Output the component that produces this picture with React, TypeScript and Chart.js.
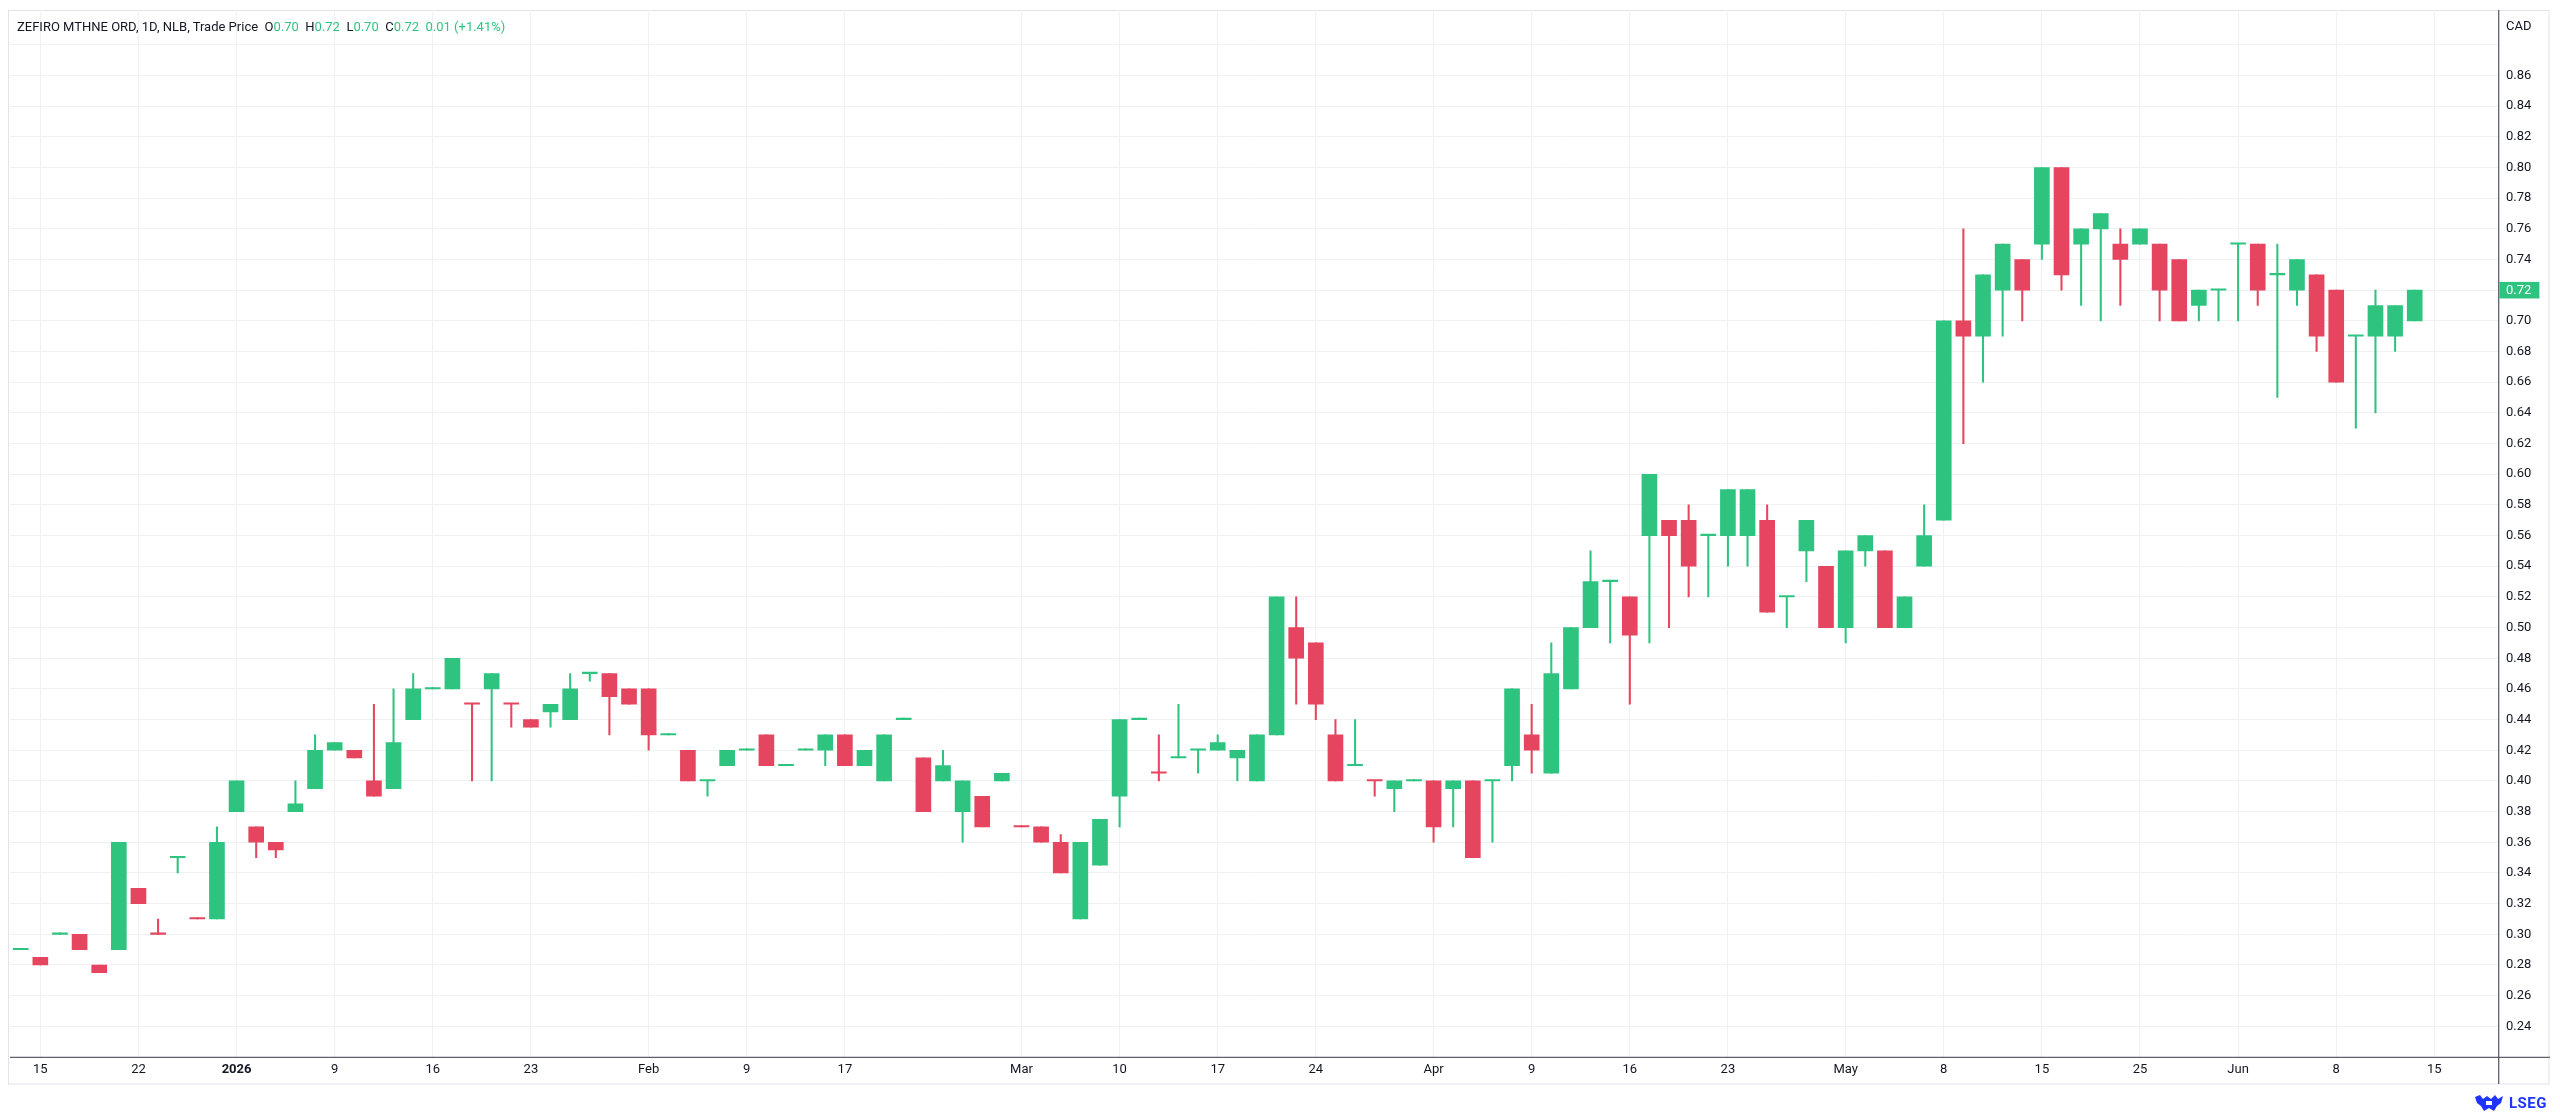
import { useEffect, useRef } from 'react';
import Chart from 'chart.js/auto';

// daily candles, Dec 12 2025 .. Jun 12 2026 (trading days only)
const opens = [
  0.29, 0.285, 0.30, 0.30, 0.28, 0.29, 0.33, 0.30, 0.35, 0.31,
  0.31, 0.38, 0.37, 0.36, 0.38, 0.395, 0.42, 0.42, 0.40, 0.395,
  0.44, 0.46, 0.46, 0.45, 0.46, 0.45, 0.44, 0.445, 0.44, 0.47,
  0.47, 0.46, 0.46, 0.43, 0.42, 0.40, 0.41, 0.42, 0.43, 0.41,
  0.42, 0.42, 0.43, 0.41, 0.40, 0.44, 0.415, 0.40, 0.38, 0.39,
  0.40, 0.37, 0.37, 0.36, 0.31, 0.345, 0.39, 0.44, 0.405, 0.415,
  0.42, 0.42, 0.415, 0.40, 0.43, 0.50, 0.49, 0.43, 0.41, 0.40,
  0.395, 0.40, 0.40, 0.395, 0.40, 0.40, 0.41, 0.43, 0.405, 0.46,
  0.50, 0.53, 0.52, 0.56, 0.57, 0.57, 0.56, 0.56, 0.56, 0.57,
  0.52, 0.55, 0.54, 0.50, 0.55, 0.55, 0.50, 0.54, 0.57, 0.70,
  0.69, 0.72, 0.74, 0.75, 0.80, 0.75, 0.76, 0.75, 0.75, 0.75,
  0.74, 0.71, 0.72, 0.75, 0.75, 0.73, 0.72, 0.73, 0.72, 0.69,
  0.69, 0.69, 0.70,
];
const highs = [
  0.29, 0.285, 0.30, 0.30, 0.28, 0.36, 0.33, 0.31, 0.35, 0.31,
  0.37, 0.40, 0.37, 0.36, 0.40, 0.43, 0.425, 0.42, 0.45, 0.46,
  0.47, 0.46, 0.48, 0.45, 0.47, 0.45, 0.44, 0.45, 0.47, 0.47,
  0.47, 0.46, 0.46, 0.43, 0.42, 0.40, 0.42, 0.42, 0.43, 0.41,
  0.42, 0.43, 0.43, 0.42, 0.43, 0.44, 0.415, 0.42, 0.40, 0.39,
  0.405, 0.37, 0.37, 0.365, 0.36, 0.375, 0.44, 0.44, 0.43, 0.45,
  0.42, 0.43, 0.42, 0.43, 0.52, 0.52, 0.49, 0.44, 0.44, 0.40,
  0.40, 0.40, 0.40, 0.40, 0.40, 0.40, 0.46, 0.45, 0.49, 0.50,
  0.55, 0.53, 0.52, 0.60, 0.57, 0.58, 0.56, 0.59, 0.59, 0.58,
  0.52, 0.57, 0.54, 0.55, 0.56, 0.55, 0.52, 0.58, 0.70, 0.76,
  0.73, 0.75, 0.74, 0.80, 0.80, 0.76, 0.77, 0.76, 0.76, 0.75,
  0.74, 0.72, 0.72, 0.75, 0.75, 0.75, 0.74, 0.73, 0.72, 0.69,
  0.72, 0.71, 0.72,
];
const lows = [
  0.29, 0.28, 0.30, 0.29, 0.275, 0.29, 0.32, 0.30, 0.34, 0.31,
  0.31, 0.38, 0.35, 0.35, 0.38, 0.395, 0.42, 0.415, 0.39, 0.395,
  0.44, 0.46, 0.46, 0.40, 0.40, 0.435, 0.435, 0.435, 0.44, 0.465,
  0.43, 0.45, 0.42, 0.43, 0.40, 0.39, 0.41, 0.42, 0.41, 0.41,
  0.42, 0.41, 0.41, 0.41, 0.40, 0.44, 0.38, 0.40, 0.36, 0.37,
  0.40, 0.37, 0.36, 0.34, 0.31, 0.345, 0.37, 0.44, 0.40, 0.415,
  0.405, 0.42, 0.40, 0.40, 0.43, 0.45, 0.44, 0.40, 0.41, 0.39,
  0.38, 0.40, 0.36, 0.37, 0.35, 0.36, 0.40, 0.405, 0.405, 0.46,
  0.50, 0.49, 0.45, 0.49, 0.50, 0.52, 0.52, 0.54, 0.54, 0.51,
  0.50, 0.53, 0.50, 0.49, 0.54, 0.50, 0.50, 0.54, 0.57, 0.62,
  0.66, 0.69, 0.70, 0.74, 0.72, 0.71, 0.70, 0.71, 0.75, 0.70,
  0.70, 0.70, 0.70, 0.70, 0.71, 0.65, 0.71, 0.68, 0.66, 0.63,
  0.64, 0.68, 0.70,
];
const closes = [
  0.29, 0.28, 0.30, 0.29, 0.275, 0.36, 0.32, 0.30, 0.35, 0.31,
  0.36, 0.40, 0.36, 0.355, 0.385, 0.42, 0.425, 0.415, 0.39, 0.425,
  0.46, 0.46, 0.48, 0.45, 0.47, 0.45, 0.435, 0.45, 0.46, 0.47,
  0.455, 0.45, 0.43, 0.43, 0.40, 0.40, 0.42, 0.42, 0.41, 0.41,
  0.42, 0.43, 0.41, 0.42, 0.43, 0.44, 0.38, 0.41, 0.40, 0.37,
  0.405, 0.37, 0.36, 0.34, 0.36, 0.375, 0.44, 0.44, 0.405, 0.415,
  0.42, 0.425, 0.42, 0.43, 0.52, 0.48, 0.45, 0.40, 0.41, 0.40,
  0.40, 0.40, 0.37, 0.40, 0.35, 0.40, 0.46, 0.42, 0.47, 0.50,
  0.53, 0.53, 0.495, 0.60, 0.56, 0.54, 0.56, 0.59, 0.59, 0.51,
  0.52, 0.57, 0.50, 0.55, 0.56, 0.50, 0.52, 0.56, 0.70, 0.69,
  0.73, 0.75, 0.72, 0.80, 0.73, 0.76, 0.77, 0.74, 0.76, 0.72,
  0.70, 0.72, 0.72, 0.75, 0.72, 0.73, 0.74, 0.69, 0.66, 0.69,
  0.71, 0.71, 0.72,
];

// time axis labels, placed on bar index
const tickIndex = [1, 6, 11, 16, 21, 26, 32, 37, 42, 51, 56, 61, 66, 72, 77, 82, 87, 93, 98, 103, 108, 113, 118, 123];
const tickText = ['15', '22', '2026', '9', '16', '23', 'Feb', '9', '17', 'Mar', '10', '17', '24', 'Apr', '9', '16', '23', 'May', '8', '15', '25', 'Jun', '8', '15'];

const priceTicks = [
  0.24, 0.26, 0.28, 0.30, 0.32, 0.34, 0.36, 0.38, 0.40, 0.42, 0.44,
  0.46, 0.48, 0.50, 0.52, 0.54, 0.56, 0.58, 0.60, 0.62, 0.64, 0.66,
  0.68, 0.70, 0.72, 0.74, 0.76, 0.78, 0.80, 0.82, 0.84, 0.86, 0.88,
];

const UP = '#2ec480';
const DOWN = '#e6455f';
const GRID = '#f0f1f3';
const TEXT = '#131722';
const FONT = 'Roboto, "Noto Sans", sans-serif';

const isUp = (i: number) =>
  closes[i] > opens[i] || (closes[i] === opens[i] && (i === 0 || closes[i] >= closes[i - 1]));

const barColors = closes.map((_, i) => (isUp(i) ? UP : DOWN));

const overlay = {
  id: 'overlay',
  beforeDraw(chart: any) {
    const { ctx, chartArea } = chart;
    ctx.save();
    ctx.strokeStyle = '#e0e3eb';
    ctx.lineWidth = 1;
    ctx.strokeRect(8.5, 10.5, chart.width - 9.5, chartArea.bottom + 26.7 - 10.5);
    ctx.restore();
  },
  afterDraw(chart: any) {
    const { ctx, chartArea, scales } = chart;
    ctx.save();
    ctx.strokeStyle = '#5d606b';
    ctx.lineWidth = 1.3;
    ctx.beginPath();
    ctx.moveTo(chartArea.left, chartArea.bottom);
    ctx.lineTo(chart.width, chartArea.bottom);
    ctx.moveTo(chartArea.right, chartArea.top);
    ctx.lineTo(chartArea.right, chartArea.bottom + 26.7);
    ctx.stroke();

    const last = closes.length - 1;
    const y = scales.y.getPixelForValue(closes[last]);
    ctx.fillStyle = isUp(last) ? UP : DOWN;
    ctx.fillRect(chartArea.right + 0.7, y - 8.3, 40, 16.6);
    ctx.fillStyle = '#ffffff';
    ctx.font = `13px ${FONT}`;
    ctx.textBaseline = 'middle';
    ctx.textAlign = 'left';
    ctx.fillText(closes[last].toFixed(2), chartArea.right + 7.3, y + 0.5);
    ctx.restore();
  },
};

export default function App() {
  const chartRef = useRef<HTMLCanvasElement>(null);
  const chartInstance = useRef<Chart | null>(null);

  useEffect(() => {
    if (!chartRef.current) return;
    const ctx = chartRef.current.getContext('2d');
    if (!ctx) return;

    if (chartInstance.current) {
      chartInstance.current.destroy();
    }

    chartInstance.current = new Chart(ctx, {
      type: 'bar',
      data: {
        datasets: [
          {
            label: 'body',
            data: opens.map((o, i) => ({ x: i, y: [Math.min(o, closes[i]), Math.max(o, closes[i])] })) as any,
            backgroundColor: barColors,
            barThickness: 15,
            minBarLength: 1.4,
            grouped: false,
            borderWidth: 0,
          },
          {
            label: 'wick',
            data: lows.map((l, i) => ({ x: i, y: [l, highs[i]] })) as any,
            backgroundColor: barColors,
            barThickness: 1.4,
            minBarLength: 1.4,
            grouped: false,
            borderWidth: 0,
          },
        ],
      },
      options: {
        responsive: false,
        animation: false,
        layout: { padding: { left: 10, top: 10, right: 0, bottom: 31 } },
        plugins: {
          legend: { display: false },
          tooltip: { enabled: false },
        },
        scales: {
          x: {
            type: 'linear',
            min: -0.546,
            max: 126.28,
            offset: false,
            grid: { offset: false, color: GRID, drawTicks: false },
            border: { display: false },
            afterBuildTicks: (s: any) => {
              s.ticks = tickIndex.map((v) => ({ value: v }));
            },
            afterFit: (s: any) => {
              s.height = 26.7;
              s.paddingLeft = 0;
              s.paddingRight = 0;
            },
            ticks: {
              autoSkip: false,
              maxRotation: 0,
              padding: 5,
              color: TEXT,
              font: (c: any) => ({
                family: FONT,
                size: 13,
                weight: tickText[c.index] === '2026' ? 'bold' : 'normal',
              }),
              callback: (v: any) => {
                const k = tickIndex.indexOf(Number(v));
                return k >= 0 ? tickText[k] : '';
              },
            },
          },
          y: {
            type: 'linear',
            position: 'right',
            min: 0.2198,
            max: 0.9027,
            beginAtZero: false,
            grid: { color: GRID, drawTicks: false },
            border: { display: false },
            afterBuildTicks: (s: any) => {
              s.ticks = priceTicks.map((v) => ({ value: v }));
            },
            afterFit: (s: any) => {
              s.width = 51.3;
              s.paddingTop = 0;
              s.paddingBottom = 0;
            },
            ticks: {
              padding: 7.3,
              color: TEXT,
              font: { family: FONT, size: 13 },
              callback: (v: any) => (Number(v) > 0.865 ? '' : Number(v).toFixed(2)),
            },
          },
        },
      },
      plugins: [overlay],
    });

    return () => {
      if (chartInstance.current) {
        chartInstance.current.destroy();
        chartInstance.current = null;
      }
    };
  }, []);

  const last = closes.length - 1;
  const change = closes[last] - closes[last - 1];
  const pct = (change / closes[last - 1]) * 100;
  const val = (n: number) => <span style={{ color: UP }}>{n.toFixed(2)}</span>;

  return (
    <div style={{ position: 'fixed', left: 0, top: 0, width: 2560, height: 1115, background: '#fff', fontFamily: FONT }}>
      <canvas ref={chartRef} width={2550} height={1115} style={{ position: 'absolute', left: 0, top: 0, width: 2550, height: 1115 }} />
      <div style={{ position: 'absolute', left: 17, top: 19, fontSize: 13, color: TEXT, whiteSpace: 'pre', lineHeight: '16px' }}>
        <span>ZEFIRO MTHNE ORD, 1D, NLB, Trade Price  </span>
        <span>O</span>{val(opens[last])}<span>  H</span>{val(highs[last])}<span>  L</span>{val(lows[last])}
        <span>  C</span>{val(closes[last])}
        <span style={{ color: UP }}>{`  ${change.toFixed(2)} (${change >= 0 ? '+' : ''}${pct.toFixed(2)}%)`}</span>
      </div>
      <div style={{ position: 'absolute', left: 2506, top: 18, fontSize: 13, color: TEXT, lineHeight: '16px' }}>CAD</div>
      <div style={{ position: 'absolute', left: 2474, top: 1093, display: 'flex', alignItems: 'center', gap: 5 }}>
        <svg width="30" height="20" viewBox="0 0 30 20">
          <path d="M1 4 L6 2 L9 6 L13 3 L17 6 L21 2 L24 6 L29 3 L27 10 L23 13 L20 18 L15 15 L10 18 L7 13 L3 10 Z" fill="#1f35ff" />
          <rect x="12" y="8" width="6" height="4" fill="#ffffff" />
        </svg>
        <span style={{ color: '#1f35ff', fontWeight: 'bold', fontSize: 15, letterSpacing: 0.5 }}>LSEG</span>
      </div>
    </div>
  );
}
